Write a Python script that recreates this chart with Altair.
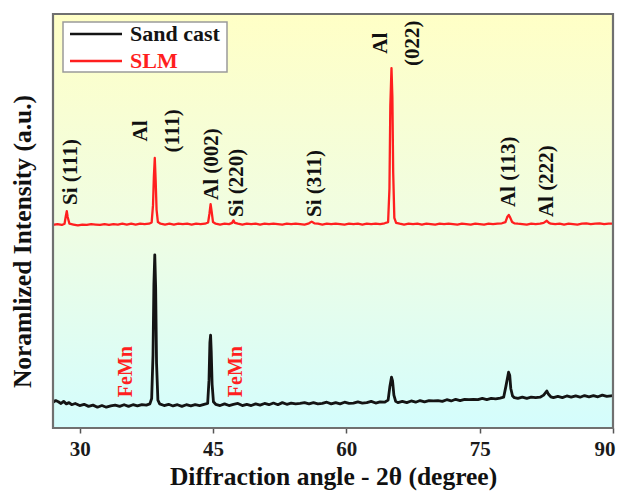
import altair as alt
import pandas as pd

SERIES = ["Sand cast", "SLM"]
COLORS = ["#141414", "#ff1f1f"]

# (2-theta, intensity) pairs
SAND = [(27.0, 6.7), (27.3, 7.1), (27.6, 6.8), (27.9, 6.4), (28.2, 6.9), (28.5, 6.3), (28.8, 6.6),
        (29.1, 6.1), (29.5, 6.4), (30.0, 5.9), (30.5, 6.2), (31.0, 5.7), (31.5, 6.0), (32.0, 5.5),
        (32.5, 5.9), (33.0, 5.5), (33.5, 5.8), (34.0, 6.0), (34.5, 5.7), (35.0, 6.1), (35.5, 5.7),
        (36.0, 6.1), (36.5, 5.8), (37.0, 6.1), (37.5, 6.0), (37.9, 6.3), (38.1, 7.6), (38.25, 18.0),
        (38.35, 35.0), (38.45, 42.1), (38.55, 34.0), (38.65, 16.0), (38.8, 7.2), (39.0, 6.3),
        (39.5, 5.9), (40.0, 6.2), (40.5, 5.8), (41.0, 6.1), (41.5, 5.7), (42.0, 6.1), (42.5, 5.8),
        (43.0, 6.1), (43.5, 5.9), (44.0, 6.2), (44.4, 6.4), (44.55, 12.0), (44.65, 21.0),
        (44.73, 22.8), (44.8, 19.0), (44.9, 11.0), (45.05, 6.8), (45.3, 6.2), (45.8, 5.9),
        (46.3, 6.3), (46.8, 5.9), (47.3, 6.2), (47.8, 6.4), (48.3, 5.9), (48.8, 6.2), (49.3, 5.9),
        (49.8, 6.3), (50.3, 6.0), (50.8, 6.4), (51.3, 6.1), (51.8, 6.5), (52.3, 6.1), (52.8, 6.6),
        (53.3, 6.2), (53.8, 6.5), (54.3, 6.3), (54.8, 6.4), (55.3, 6.6), (55.8, 6.3), (56.3, 6.6),
        (56.8, 6.3), (57.3, 6.4), (57.8, 6.7), (58.3, 6.3), (58.8, 6.6), (59.3, 6.3), (59.8, 6.7),
        (60.3, 6.4), (60.8, 6.5), (61.3, 6.8), (61.8, 6.5), (62.3, 6.6), (62.8, 6.9), (63.3, 6.5),
        (63.8, 6.8), (64.3, 6.7), (64.7, 7.2), (64.9, 10.5), (65.08, 12.7), (65.2, 11.8),
        (65.35, 8.4), (65.55, 6.9), (65.8, 6.6), (66.3, 6.9), (66.8, 6.6), (67.3, 7.0), (67.8, 6.7),
        (68.3, 7.1), (68.8, 6.8), (69.3, 7.1), (69.8, 7.0), (70.3, 7.1), (70.8, 6.9), (71.3, 7.3),
        (71.8, 7.0), (72.3, 7.4), (72.8, 7.1), (73.3, 7.4), (73.8, 7.3), (74.3, 7.4), (74.8, 7.3),
        (75.3, 7.6), (75.8, 7.3), (76.3, 7.6), (76.8, 7.5), (77.3, 7.7), (77.7, 7.9), (77.95, 10.5),
        (78.25, 13.9), (78.38, 13.2), (78.5, 10.0), (78.7, 8.2), (78.9, 7.8), (79.3, 7.6),
        (79.8, 7.9), (80.3, 7.6), (80.8, 7.9), (81.3, 7.8), (81.8, 7.9), (82.2, 8.4), (82.55, 9.4),
        (82.75, 8.6), (83.0, 8.0), (83.3, 7.8), (83.8, 8.1), (84.3, 7.8), (84.8, 8.2), (85.3, 7.9),
        (85.8, 8.2), (86.3, 7.9), (86.8, 8.3), (87.3, 8.0), (87.8, 8.3), (88.3, 8.0), (88.8, 8.4),
        (89.3, 8.1), (90.0, 8.3)]

SLM = [(27.0, 49.3), (27.5, 49.5), (28.0, 49.3), (28.3, 49.6), (28.45, 51.5), (28.55, 52.6),
       (28.65, 51.2), (28.85, 49.6), (29.3, 49.4), (29.8, 49.2), (30.3, 49.4), (30.8, 49.3),
       (31.3, 49.5), (31.8, 49.4), (32.3, 49.3), (32.8, 49.5), (33.3, 49.3), (33.8, 49.5),
       (34.3, 49.4), (34.8, 49.6), (35.3, 49.4), (35.8, 49.6), (36.3, 49.4), (36.8, 49.6),
       (37.3, 49.5), (37.8, 49.6), (38.1, 49.9), (38.25, 54.0), (38.35, 61.0), (38.45, 65.4),
       (38.55, 60.0), (38.65, 53.0), (38.8, 50.0), (39.1, 49.6), (39.6, 49.4), (40.1, 49.6),
       (40.6, 49.4), (41.1, 49.6), (41.6, 49.5), (42.1, 49.6), (42.6, 49.4), (43.1, 49.6),
       (43.6, 49.5), (44.1, 49.6), (44.45, 49.9), (44.6, 52.0), (44.73, 54.3), (44.85, 52.5),
       (45.0, 50.0), (45.3, 49.6), (45.8, 49.4), (46.3, 49.6), (46.8, 49.5), (47.15, 49.8),
       (47.3, 50.4), (47.45, 49.8), (47.8, 49.6), (48.3, 49.4), (48.8, 49.6), (49.3, 49.5),
       (49.8, 49.6), (50.3, 49.4), (50.8, 49.6), (51.3, 49.5), (51.8, 49.6), (52.3, 49.5),
       (52.8, 49.4), (53.3, 49.6), (53.8, 49.5), (54.3, 49.6), (54.8, 49.5), (55.3, 49.4),
       (55.8, 49.7), (56.1, 50.1), (56.4, 49.7), (56.8, 49.6), (57.3, 49.4), (57.8, 49.6),
       (58.3, 49.5), (58.8, 49.6), (59.3, 49.5), (59.8, 49.4), (60.3, 49.6), (60.8, 49.5),
       (61.3, 49.6), (61.8, 49.4), (62.3, 49.6), (62.8, 49.5), (63.3, 49.6), (63.8, 49.5),
       (64.3, 49.7), (64.7, 50.0), (64.85, 58.0), (64.95, 78.0), (65.08, 87.0), (65.18, 80.0),
       (65.27, 62.0), (65.4, 51.0), (65.6, 49.8), (66.0, 49.6), (66.5, 49.4), (67.0, 49.6),
       (67.5, 49.5), (68.0, 49.6), (68.5, 49.4), (69.0, 49.6), (69.5, 49.5), (70.0, 49.4),
       (70.5, 49.6), (71.0, 49.5), (71.5, 49.6), (72.0, 49.5), (72.5, 49.4), (73.0, 49.6),
       (73.5, 49.5), (74.0, 49.4), (74.5, 49.6), (75.0, 49.5), (75.5, 49.4), (76.0, 49.6),
       (76.5, 49.5), (77.0, 49.6), (77.5, 49.7), (77.9, 50.0), (78.1, 51.2), (78.28, 51.7),
       (78.45, 51.0), (78.65, 50.0), (78.9, 49.7), (79.3, 49.6), (79.8, 49.5), (80.3, 49.4),
       (80.8, 49.6), (81.3, 49.5), (81.8, 49.6), (82.2, 49.8), (82.55, 50.3), (82.8, 49.8),
       (83.0, 49.6), (83.5, 49.5), (84.0, 49.6), (84.5, 49.4), (85.0, 49.6), (85.5, 49.5),
       (86.0, 49.4), (86.5, 49.6), (87.0, 49.7), (87.5, 49.5), (88.0, 49.6), (88.5, 49.7),
       (89.0, 49.5), (89.5, 49.6), (90.0, 49.6)]

PEAK_TEXT = ["Si (111)", "Al (002)", "Si (220)", "Si (311)", "Al (113)", "Al (222)"]
PEAK_X = [28.99, 44.86, 47.67, 56.45, 78.3, 82.57]
PEAK_Y = [54.1, 55.3, 51.2, 51.2, 53.6, 51.2]

STACK_TEXT = ["Al\n(111)", "Al\n(022)"]
STACK_X = [36.95, 63.85]
STACK_Y = [71.9, 93.0]

FEMN_TEXT = ["FeMn", "FeMn"]
FEMN_X = [35.18, 47.56]
FEMN_Y = [7.9, 7.9]

X_TICKS = [30, 45, 60, 75, 90]
X_TITLE = "Diffraction angle - 2θ (degree)"
Y_TITLE = "Noramlized Intensity (a.u.)"

FONT = "Liberation Serif"
W, H = 560, 414

lines_df = pd.concat([
    pd.DataFrame(SAND, columns=["angle", "intensity"]).assign(series=SERIES[0]),
    pd.DataFrame(SLM, columns=["angle", "intensity"]).assign(series=SERIES[1]),
], ignore_index=True)
peaks_df = pd.DataFrame({"angle": PEAK_X, "intensity": PEAK_Y, "label": PEAK_TEXT})
stack_df = pd.DataFrame({"angle": STACK_X, "intensity": STACK_Y, "label": STACK_TEXT})
femn_df = pd.DataFrame({"angle": FEMN_X, "intensity": FEMN_Y, "label": FEMN_TEXT})
one = pd.DataFrame({"k": [0]})

xscale = alt.Scale(domain=[27, 90], nice=False, zero=False)
yscale = alt.Scale(domain=[0.5, 100], nice=False, zero=False)

xaxis = alt.Axis(values=X_TICKS, title=X_TITLE, grid=False, domain=False,
                 tickSize=5, tickWidth=1.5, tickColor="#555555",
                 labelFont=FONT, labelFontSize=21, labelFontWeight="bold", labelColor="#1a1a1a",
                 labelBaseline="middle", labelPadding=16, labelFlush=4, labelFlushOffset=2,
                 titleFont=FONT, titleFontSize=25.5, titleFontWeight="bold", titleColor="#111111",
                 titleX=W / 2, titleY=48, titleBaseline="middle", titleAlign="center")
yaxis = alt.Axis(title=Y_TITLE, labels=False, ticks=False, domain=False, grid=False,
                 titleFont=FONT, titleFontSize=25.5, titleFontWeight="bold", titleColor="#111111",
                 titleAngle=270, titleX=-31, titleY=227, titleBaseline="middle", titleAlign="center")

bg = alt.Chart(one).mark_rect(
    fill=alt.LinearGradient(
        gradient="linear",
        stops=[alt.GradientStop(color="#ffffc6", offset=0),
               alt.GradientStop(color="#f0fde2", offset=0.5),
               alt.GradientStop(color="#d4fdfd", offset=1)],
        x1=0, x2=0, y1=0, y2=1)
).encode(x=alt.value(0), x2=alt.value(W), y=alt.value(0), y2=alt.value(H))

lines = alt.Chart(lines_df).mark_line(strokeJoin="round").encode(
    x=alt.X("angle:Q", scale=xscale, axis=xaxis),
    y=alt.Y("intensity:Q", scale=yscale, axis=yaxis),
    color=alt.Color("series:N", scale=alt.Scale(domain=SERIES, range=COLORS), legend=None),
    strokeWidth=alt.StrokeWidth("series:N", scale=alt.Scale(domain=SERIES, range=[2.8, 2.3]), legend=None),
    detail="series:N",
)

peak_text = alt.Chart(peaks_df).mark_text(
    angle=270, align="left", baseline="middle", font=FONT, fontSize=21, fontWeight="bold", color="#111111"
).encode(x=alt.X("angle:Q", scale=xscale), y=alt.Y("intensity:Q", scale=yscale), text="label:N")

stack_text = alt.Chart(stack_df).mark_text(
    angle=270, align="center", baseline="middle", lineBreak="\n", lineHeight=32,
    font=FONT, fontSize=21, fontWeight="bold", color="#111111"
).encode(x=alt.X("angle:Q", scale=xscale), y=alt.Y("intensity:Q", scale=yscale), text="label:N")

femn_text = alt.Chart(femn_df).mark_text(
    angle=270, align="left", baseline="middle", font=FONT, fontSize=20, fontWeight="bold", color=COLORS[1]
).encode(x=alt.X("angle:Q", scale=xscale), y=alt.Y("intensity:Q", scale=yscale), text="label:N")

frame = alt.Chart(one).mark_rect(fill=None, stroke="#707070", strokeWidth=2.2).encode(
    x=alt.value(0), x2=alt.value(W), y=alt.value(0), y2=alt.value(H))

leg_box = alt.Chart(one).mark_rect(fill="white", stroke="#9a9a9a", strokeWidth=1.5).encode(
    x=alt.value(10), x2=alt.value(174), y=alt.value(8), y2=alt.value(58))
leg_line1 = alt.Chart(one).mark_rule(color=COLORS[0], strokeWidth=2.5).encode(
    x=alt.value(17), x2=alt.value(69), y=alt.value(20))
leg_line2 = alt.Chart(one).mark_rule(color=COLORS[1], strokeWidth=2.5).encode(
    x=alt.value(17), x2=alt.value(69), y=alt.value(47))
leg_text1 = alt.Chart(one).mark_text(align="left", baseline="middle", font=FONT, fontSize=22,
                                     fontWeight="bold", color=COLORS[0]).encode(
    x=alt.value(77), y=alt.value(20), text=alt.value(SERIES[0]))
leg_text2 = alt.Chart(one).mark_text(align="left", baseline="middle", font=FONT, fontSize=22,
                                     fontWeight="bold", color=COLORS[1]).encode(
    x=alt.value(77), y=alt.value(47), text=alt.value(SERIES[1]))

chart = alt.layer(
    bg, lines, peak_text, stack_text, femn_text, frame,
    leg_box, leg_line1, leg_line2, leg_text1, leg_text2
).properties(
    width=W, height=H, autosize="none",
    padding={"left": 45, "top": 6, "right": 4, "bottom": 66},
    background="white",
).configure_view(stroke=None)

chart.save("out.html", embed_options={"renderer": "svg", "actions": False})
